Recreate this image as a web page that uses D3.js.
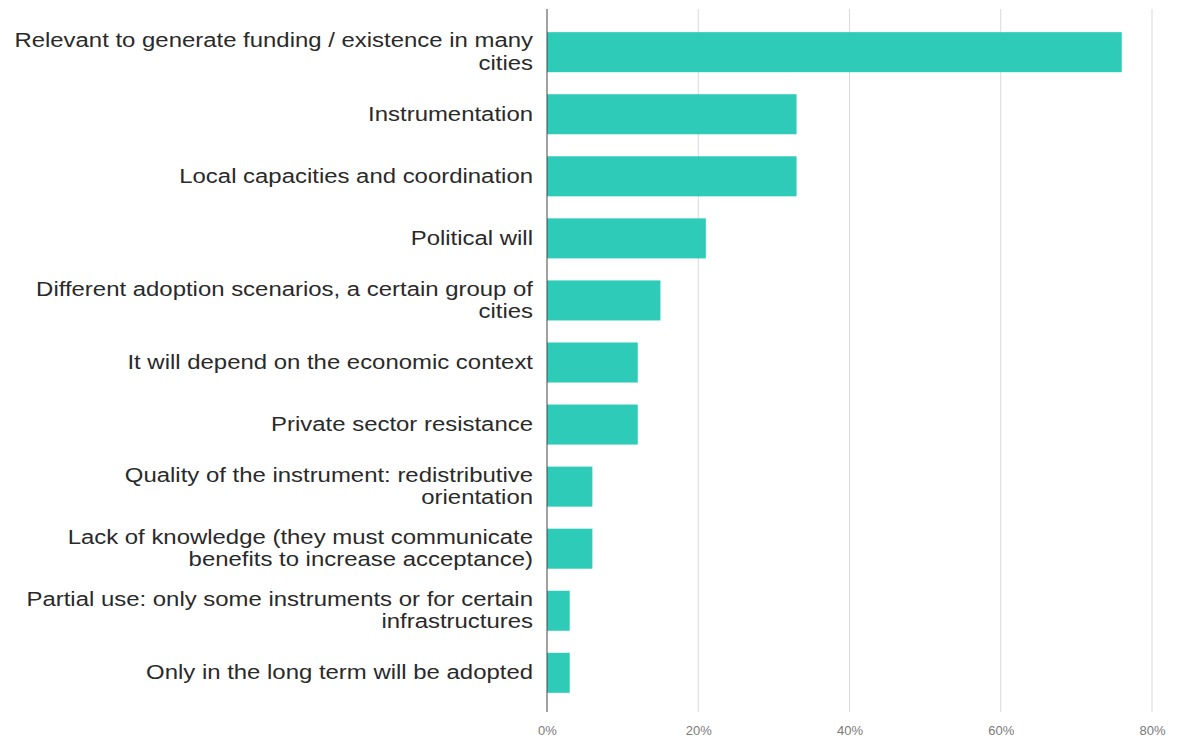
<!DOCTYPE html>
<html>
<head>
<meta charset="utf-8">
<script src="https://cdn.jsdelivr.net/npm/d3@7"></script>
<style>
  html, body { margin: 0; padding: 0; background: #fff; }
  svg { display: block; }
</style>
</head>
<body>
<svg id="chart" width="1180" height="740"></svg>
<script>
// Reasons cited, share of respondents
const categories = [
  ["Relevant to generate funding / existence in many", "cities"],
  ["Instrumentation"],
  ["Local capacities and coordination"],
  ["Political will"],
  ["Different adoption scenarios, a certain group of", "cities"],
  ["It will depend on the economic context"],
  ["Private sector resistance"],
  ["Quality of the instrument: redistributive", "orientation"],
  ["Lack of knowledge (they must communicate", "benefits to increase acceptance)"],
  ["Partial use: only some instruments or for certain", "infrastructures"],
  ["Only in the long term will be adopted"]
];
const values = [76, 33, 33, 21, 15, 12, 12, 6, 6, 3, 3];
const tickValues = [0, 20, 40, 60, 80];

const svg = d3.select("#chart");
const x0 = 547, x1 = 1152;
const yTop = 21, yBottom = 704;

const x = d3.scaleLinear().domain([0, 80]).range([x0, x1]);
const y = d3.scaleBand()
  .domain(d3.range(values.length))
  .range([yTop, yBottom])
  .paddingInner(0.355)
  .paddingOuter(0.18);

// gridlines
svg.append("g")
  .selectAll("line")
  .data(tickValues.slice(1))
  .join("line")
  .attr("x1", d => x(d)).attr("x2", d => x(d))
  .attr("y1", 9).attr("y2", 712)
  .attr("stroke", "#d9d9d9")
  .attr("stroke-width", 1);

// bars
svg.append("g")
  .selectAll("rect")
  .data(values)
  .join("rect")
  .attr("x", x(0))
  .attr("y", (d, i) => y(i))
  .attr("width", d => x(d) - x(0))
  .attr("height", y.bandwidth())
  .attr("fill", "#2ecbb8");

// baseline
svg.append("line")
  .attr("x1", x(0)).attr("x2", x(0))
  .attr("y1", 9).attr("y2", 712)
  .attr("stroke", "#444")
  .attr("stroke-width", 1);

// x axis tick labels
const xAxis = d3.axisBottom(x)
  .tickValues(tickValues)
  .tickFormat(d => d + "%")
  .tickSize(0)
  .tickPadding(0);
const gx = svg.append("g")
  .attr("transform", "translate(0,726)")
  .call(xAxis);
gx.select(".domain").remove();
gx.selectAll("text")
  .attr("font-family", "'Liberation Sans', Arial, sans-serif")
  .attr("font-size", 13)
  .attr("fill", "#7a7a7a");

// category labels (slightly widened type)
const lineH = 22.5;
const labels = svg.append("g")
  .attr("font-family", "'Liberation Sans', Arial, sans-serif")
  .attr("font-size", 21)
  .attr("fill", "#2a2a2a")
  .attr("text-anchor", "end");

categories.forEach((lines, i) => {
  const cy = y(i) + y.bandwidth() / 2 - 1;
  const t = labels.append("text")
    .attr("transform", `translate(533,${cy - (lines.length - 1) * lineH / 2}) scale(1.14,1)`);
  lines.forEach((ln, j) => {
    t.append("tspan")
      .attr("x", 0)
      .attr("dy", j === 0 ? "0.35em" : lineH)
      .text(ln);
  });
});
</script>
</body>
</html>
